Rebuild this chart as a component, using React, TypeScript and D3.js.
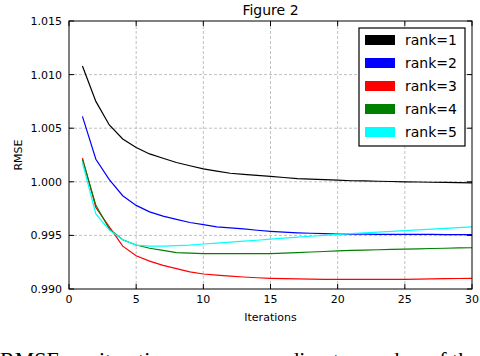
import React from 'react';
import * as d3 from 'd3';

// iterations 1..30
const iterations = d3.range(1, 31);

const rank1 = [
  1.0108, 1.0075, 1.0053, 1.004, 1.0032, 1.0026, 1.0022, 1.0018, 1.0015, 1.0012,
  1.001, 1.0008, 1.0007, 1.0006, 1.0005, 1.0004, 1.0003, 1.00025, 1.0002, 1.00015,
  1.0001, 1.00008, 1.00005, 1.00003, 1.0, 0.99998, 0.99996, 0.99994, 0.99992, 0.9999,
];
const rank2 = [
  1.0061, 1.0021, 1.0002, 0.9987, 0.9978, 0.9972, 0.9968, 0.9965, 0.9962, 0.996,
  0.9958, 0.9957, 0.9956, 0.99548, 0.99538, 0.9953, 0.99524, 0.9952, 0.99516, 0.99513,
  0.99512, 0.99511, 0.9951, 0.9951, 0.9951, 0.99509, 0.99509, 0.99508, 0.99508, 0.99508,
];
const rank3 = [
  1.0022, 0.9976, 0.9958, 0.994, 0.9931, 0.9926, 0.9922, 0.9919, 0.9916, 0.9914,
  0.9913, 0.9912, 0.99112, 0.99105, 0.991, 0.99097, 0.99094, 0.99092, 0.9909, 0.9909,
  0.9909, 0.9909, 0.9909, 0.9909, 0.9909, 0.99092, 0.99094, 0.99096, 0.99098, 0.991,
];
const rank4 = [
  1.0021, 0.9978, 0.9956, 0.9946, 0.9941, 0.9938, 0.9936, 0.9934, 0.99335, 0.9933,
  0.9933, 0.9933, 0.9933, 0.9933, 0.9933, 0.99335, 0.9934, 0.99345, 0.9935, 0.99355,
  0.9936, 0.99363, 0.99366, 0.99369, 0.99372, 0.99375, 0.99378, 0.9938, 0.99383, 0.99385,
];
const rank5 = [
  1.0018, 0.997, 0.9955, 0.9946, 0.9941, 0.994, 0.994, 0.99405, 0.9941, 0.9942,
  0.99428, 0.99437, 0.99446, 0.99455, 0.99465, 0.99474, 0.99483, 0.99492, 0.99501, 0.9951,
  0.99517, 0.99524, 0.99531, 0.99538, 0.99545, 0.99552, 0.99559, 0.99566, 0.99573, 0.9958,
];

const seriesNames = ['rank=1', 'rank=2', 'rank=3', 'rank=4', 'rank=5'];
const seriesValues = [rank1, rank2, rank3, rank4, rank5];
const colors = ['#000000', '#0000ff', '#ff0000', '#008000', '#00ffff'];

const xTicks = [0, 5, 10, 15, 20, 25, 30];
const yTicks = [0.99, 0.995, 1.0, 1.005, 1.01, 1.015];

const title = 'Figure 2';
const xLabel = 'Iterations';
const yLabel = 'RMSE';
const caption = 'RMSE per iteration curves according to number of the';

const W = 480,
  H = 356;
const margin = { top: 21, right: 8, bottom: 67, left: 69 };
const innerW = W - margin.left - margin.right;
const innerH = H - margin.top - margin.bottom;

const sans = 'DejaVu Sans, sans-serif';

export default function App() {
  const x = d3.scaleLinear().domain([0, 30]).range([0, innerW]);
  const y = d3.scaleLinear().domain([0.99, 1.015]).range([innerH, 0]);

  const line = d3
    .line<number>()
    .x((_, i) => x(iterations[i]))
    .y((d) => y(d));

  const tickLen = 5;

  return (
    <svg
      width={W}
      height={H}
      style={{ position: 'absolute', left: 0, top: 0, background: '#fff' }}
    >
      <rect width={W} height={H} fill="#fff" />
      <text x={margin.left + innerW / 2} y={15} textAnchor="middle" fontFamily={sans} fontSize={14}>
        {title}
      </text>
      <g transform={`translate(${margin.left},${margin.top})`}>
        {/* GRID */}
        {xTicks.slice(1, -1).map((t) => (
          <line key={'gx' + t} x1={x(t)} x2={x(t)} y1={0} y2={innerH} stroke="#b0b0b0" strokeWidth={0.8} strokeDasharray="3,2" />
        ))}
        {yTicks.slice(1, -1).map((t) => (
          <line key={'gy' + t} x1={0} x2={innerW} y1={y(t)} y2={y(t)} stroke="#b0b0b0" strokeWidth={0.8} strokeDasharray="3,2" />
        ))}

        {/* LINES */}
        {seriesValues.map((vals, i) => (
          <path key={seriesNames[i]} d={line(vals) || ''} fill="none" stroke={colors[i]} strokeWidth={1.2} />
        ))}

        {/* FRAME + TICKS */}
        <rect x={0} y={0} width={innerW} height={innerH} fill="none" stroke="#000" strokeWidth={1} />
        {xTicks.map((t) => (
          <g key={'tx' + t}>
            <line x1={x(t)} x2={x(t)} y1={innerH} y2={innerH - tickLen} stroke="#000" />
            <line x1={x(t)} x2={x(t)} y1={0} y2={tickLen} stroke="#000" />
            <text x={x(t)} y={innerH + 14} textAnchor="middle" fontFamily={sans} fontSize={11}>
              {t}
            </text>
          </g>
        ))}
        {yTicks.map((t) => (
          <g key={'ty' + t}>
            <line x1={0} x2={tickLen} y1={y(t)} y2={y(t)} stroke="#000" />
            <line x1={innerW} x2={innerW - tickLen} y1={y(t)} y2={y(t)} stroke="#000" />
            <text x={-7} y={y(t)} dy="0.36em" textAnchor="end" fontFamily={sans} fontSize={11}>
              {d3.format('.3f')(t)}
            </text>
          </g>
        ))}
        <text x={innerW / 2} y={innerH + 32} textAnchor="middle" fontFamily={sans} fontSize={11}>
          {xLabel}
        </text>
        <text
          transform={`translate(${-margin.left + 22},${innerH / 2}) rotate(-90)`}
          textAnchor="middle"
          fontFamily={sans}
          fontSize={11}
        >
          {yLabel}
        </text>

        {/* LEGEND */}
        <g transform={`translate(${290},${7})`}>
          <rect x={0} y={0} width={106} height={118} fill="#fff" stroke="#000" strokeWidth={1.2} />
          {seriesNames.map((name, i) => (
            <g key={'lg' + name} transform={`translate(0,${12 + i * 23})`}>
              <rect x={6} y={-5} width={30} height={10} fill={colors[i]} />
              <text x={46} y={0} dy="0.36em" fontFamily={sans} fontSize={14}>
                {name}
              </text>
            </g>
          ))}
        </g>
      </g>
      <text x={0} y={367} fontFamily="Liberation Serif, Times New Roman, serif" fontSize={22}>
        {caption}
      </text>
    </svg>
  );
}
